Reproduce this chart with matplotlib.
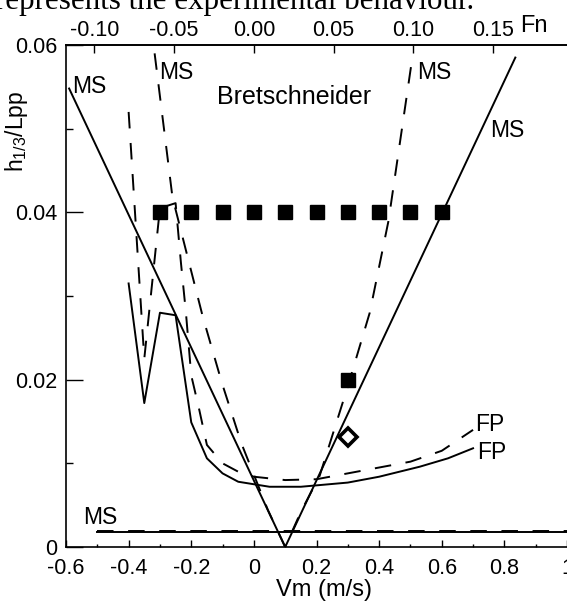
import numpy as np
import matplotlib.pyplot as plt
from matplotlib.ticker import FixedLocator, FixedFormatter, MultipleLocator

plt.rcParams['font.family'] = ['Liberation Sans', 'DejaVu Sans']
plt.rcParams['axes.unicode_minus'] = False

# Froude number per model speed (m/s) for the top axis
FN_PER_VM = 0.1963

# MS, solid: straight V
ms_solid_vm = [-0.59, 0.10, 0.835]
ms_solid_h = [0.0548, 0.0, 0.0585]

# MS, dashed: curved V
ms_dash_vm = [-0.317, -0.26, -0.163, -0.102, -0.04, 0.045, 0.10,
              0.15, 0.21, 0.30, 0.37, 0.43, 0.508]
ms_dash_h = [0.0590, 0.0418, 0.0275, 0.0196, 0.0124, 0.0044, 0.0,
             0.0042, 0.0085, 0.0192, 0.0280, 0.0390, 0.0590]

# MS at low level, both models
ms_low_vm = [-0.5, 1.0]
ms_low_h_solid = [0.0018, 0.0018]
ms_low_h_dash = [0.0019, 0.0019]

# FP, solid
fp_solid_vm = [-0.40, -0.35, -0.30, -0.25, -0.20, -0.15, -0.10, -0.05,
               0.05, 0.15, 0.30, 0.40, 0.53, 0.62, 0.70]
fp_solid_h = [0.0315, 0.0172, 0.0280, 0.0277, 0.0149, 0.0106, 0.0088, 0.0078,
              0.0072, 0.0072, 0.0077, 0.0084, 0.0096, 0.0106, 0.0118]

# FP, dashed
fp_dash_vm = [-0.40, -0.35, -0.30, -0.25, -0.233, -0.217, -0.20, -0.175, -0.15,
              -0.10, -0.05, 0.0, 0.10, 0.20, 0.30, 0.40, 0.50, 0.60, 0.70]
fp_dash_h = [0.0520, 0.0225, 0.0405, 0.0411, 0.0340, 0.0280, 0.0205, 0.0165, 0.0122,
             0.0100, 0.0090, 0.0084, 0.0080, 0.0081, 0.0088, 0.0095, 0.0102, 0.0115, 0.0140]

# experiments
exp_sq_vm = [-0.3, -0.2, -0.1, 0.0, 0.1, 0.2, 0.3, 0.4, 0.5, 0.6]
exp_sq_h = [0.04, 0.04, 0.04, 0.04, 0.04, 0.04, 0.04, 0.04, 0.04, 0.04]
exp_sq2_vm = [0.3]
exp_sq2_h = [0.02]
exp_dm_vm = [0.3]
exp_dm_h = [0.0131]

x_ticks = [-0.6, -0.4, -0.2, 0.0, 0.2, 0.4, 0.6, 0.8, 1.0]
x_labels = ['-0.6', '-0.4', '-0.2', '0', '0.2', '0.4', '0.6', '0.8', '1']
y_ticks = [0.0, 0.02, 0.04, 0.06]
y_labels = ['0', '0.02', '0.04', '0.06']
fn_ticks = [-0.10, -0.05, 0.00, 0.05, 0.10, 0.15]
fn_labels = ['-0.10', '-0.05', '0.00', '0.05', '0.10', '0.15']

fig = plt.figure(figsize=(5.67, 6.01), dpi=100)
ax = fig.add_axes([66 / 567, 54 / 601, 501 / 567, 502 / 601])

lw = 1.4
dash = (0, (8.5, 7.5))
ax.plot(ms_solid_vm, ms_solid_h, color='black', lw=lw)
ax.plot(ms_dash_vm, ms_dash_h, color='black', lw=lw, linestyle=dash)
ax.plot(ms_low_vm, ms_low_h_solid, color='black', lw=lw)
ax.plot(ms_low_vm, ms_low_h_dash, color='black', lw=lw, linestyle=dash)
ax.plot(fp_solid_vm, fp_solid_h, color='black', lw=lw)
ax.plot(fp_dash_vm, fp_dash_h, color='black', lw=lw, linestyle=dash)

ax.plot(exp_sq_vm, exp_sq_h, 's', color='black', ms=10.5, zorder=5)
ax.plot(exp_sq2_vm, exp_sq2_h, 's', color='black', ms=10.5, zorder=5)
ax.plot(exp_dm_vm, exp_dm_h, 'D', mfc='white', mec='black', mew=2.6, ms=9, zorder=5)

lab = dict(fontsize=16.5, va='center', ha='left')
ax.text(-0.58, 0.0550, 'MS', **lab)
ax.text(-0.303, 0.0567, 'MS', **lab)
ax.text(0.52, 0.0567, 'MS', **lab)
ax.text(0.754, 0.0498, 'MS', **lab)
ax.text(-0.546, 0.0035, 'MS', **lab)
ax.text(0.705, 0.0147, 'FP', **lab)
ax.text(0.712, 0.0113, 'FP', **lab)
ax.text(-0.118, 0.0538, 'Bretschneider', fontsize=18, va='center', ha='left')

ax.set_xlim(-0.6, 1.0)
ax.set_ylim(0, 0.06)
ax.xaxis.set_major_locator(FixedLocator(x_ticks))
ax.xaxis.set_major_formatter(FixedFormatter(x_labels))
ax.xaxis.set_minor_locator(MultipleLocator(0.1))
ax.yaxis.set_major_locator(FixedLocator(y_ticks))
ax.yaxis.set_major_formatter(FixedFormatter(y_labels))
ax.yaxis.set_minor_locator(MultipleLocator(0.01))
ax.tick_params(axis='x', which='major', direction='in', length=5, width=1, labelsize=15.5, pad=8)
ax.tick_params(axis='x', which='minor', direction='in', length=2.5, width=1)
ax.tick_params(axis='y', which='major', direction='in', length=12, width=1, labelsize=15.5, pad=6)
ax.tick_params(axis='y', which='minor', direction='in', length=5, width=1)
ax.spines['right'].set_visible(False)
for s in ['left', 'bottom', 'top']:
    ax.spines[s].set_linewidth(1.2)

secax = ax.secondary_xaxis('top', functions=(lambda v: v * FN_PER_VM,
                                             lambda f: f / FN_PER_VM))
secax.xaxis.set_major_locator(FixedLocator(fn_ticks))
secax.xaxis.set_major_formatter(FixedFormatter(fn_labels))
secax.tick_params(direction='in', length=6, width=1, labelsize=15.5, pad=3)
secax.spines['top'].set_linewidth(1.2)

ax.text(0.515, -0.0857, 'Vm (m/s)', transform=ax.transAxes, fontsize=17,
        ha='center', va='center')
ax.text(-0.098, 0.829, r'h$\mathregular{_{1/3}}$/Lpp', transform=ax.transAxes,
        fontsize=16.5, rotation=90, ha='center', va='center')
fig.text(520 / 567, 1 - 26 / 601, 'Fn', fontsize=17, ha='left', va='center')

fig.text(474 / 567, 1 - 9 / 601, 'represents the experimental behaviour.',
         family='Liberation Serif', fontsize=22.3, ha='right', va='baseline')

fig.savefig('out.png', dpi=100)
